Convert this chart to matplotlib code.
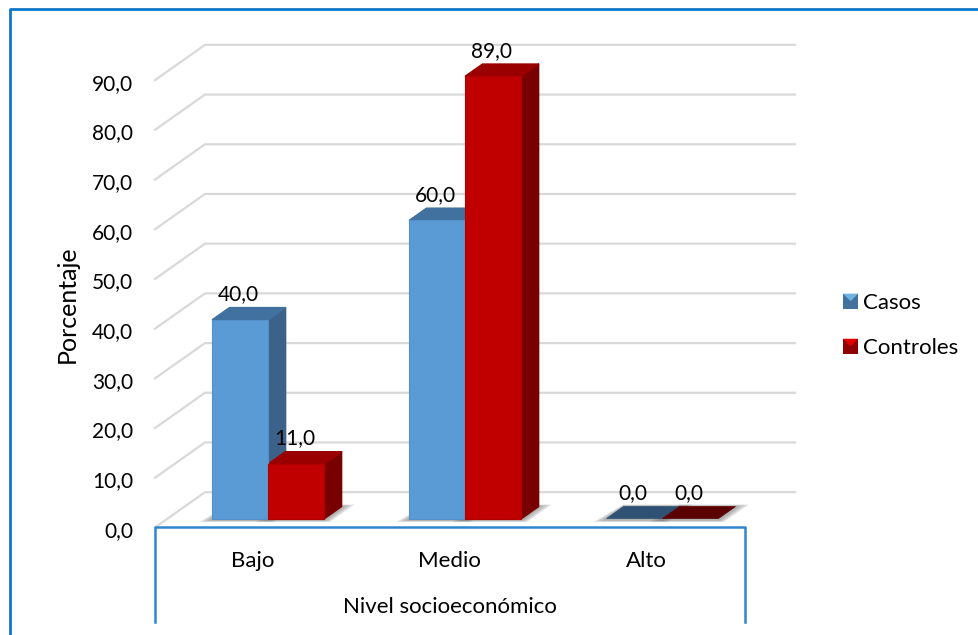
import matplotlib
matplotlib.use('Agg')
import matplotlib.pyplot as plt
from matplotlib.legend_handler import HandlerBase
from matplotlib.patches import Patch, Polygon, Rectangle

categories = ['Bajo', 'Medio', 'Alto']
casos = [40.0, 60.0, 0.0]
controles = [11.0, 89.0, 0.0]
y_ticks = [0, 10, 20, 30, 40, 50, 60, 70, 80, 90]

W, H = 979, 635
BLUE_LINE = '#0f77c8'
GRID = '#d9d9d9'
PX = 1 / 197
BAR_W = 56 * PX
DEPTH_X = 17 * PX
DEPTH_Y = 12 / 4.97


def fmt(v):
    return f'{v:.1f}'.replace('.', ',')


def px_x(px):
    return (px - 268.5) / 197


def px_y(px):
    return (518.5 - px) / 4.97


def draw_bar(ax, x, value, front, edge, top, side, flat):
    # 3d look: soft floor shadow, then side, top and front faces
    x1 = x + BAR_W
    for s in (13, 9, 5):
        ax.add_patch(Polygon([(x - s * PX, -0.3 - s * 0.03), (x1 + s * 0.4 * PX, -0.3 - s * 0.03),
                              (x1 + DEPTH_X + s * PX, DEPTH_Y + s * 0.03), (x + DEPTH_X, DEPTH_Y + s * 0.03)],
                             closed=True, fc='#6e6e6e', ec='none', alpha=0.22, zorder=2))
    if value == 0:
        ax.add_patch(Polygon([(x, 0), (x + DEPTH_X, DEPTH_Y), (x1 + DEPTH_X, DEPTH_Y), (x1, 0)],
                             closed=True, fc=flat, ec=flat, lw=0.5, zorder=3))
        return
    ax.add_patch(Polygon([(x1, 0), (x1 + DEPTH_X, DEPTH_Y), (x1 + DEPTH_X, value + DEPTH_Y), (x1, value)],
                         closed=True, fc=side, ec=side, lw=1.2, joinstyle='round', zorder=3))
    ax.add_patch(Polygon([(x, value), (x + DEPTH_X, value + DEPTH_Y), (x1 + DEPTH_X, value + DEPTH_Y), (x1, value)],
                         closed=True, fc=top, ec=top, lw=1.2, joinstyle='round', zorder=3))
    ax.add_patch(Rectangle((x, 0), BAR_W, value, fc=front, ec=edge, lw=0.8, zorder=4))


class BevelHandler(HandlerBase):
    def create_artists(self, legend, orig, xd, yd, w, h, fontsize, trans):
        base = Rectangle((-xd, -yd), h, h, fc=orig.get_edgecolor(), ec='none', transform=trans)
        tri = Polygon([(-xd, h - yd), (h - xd, h - yd), (h / 2 - xd, h / 2 - yd)],
                      closed=True, fc=orig.get_facecolor(), ec='none', transform=trans)
        return [base, tri]


plt.rcParams['font.family'] = ['Lato', 'DejaVu Sans']
fig = plt.figure(figsize=(W / 100, H / 100), dpi=100)
ax = fig.add_axes([0, 0, 1, 1])
ax.set_xlim(px_x(0), px_x(W))
ax.set_ylim(px_y(H), px_y(0))
ax.axis('off')

# gridlines: short diagonal on the floor side, then along the back wall
for v in y_ticks:
    ax.plot([px_x(155), px_x(205), px_x(795)],
            [v - 1.8, v + 5.3, v + 5.3], color=GRID, lw=1.6, zorder=1)
    ax.text(px_x(133), v - 2.5, fmt(v), ha='right', va='center', fontsize=15, color='black')

for i, cat in enumerate(categories):
    draw_bar(ax, i - BAR_W, casos[i], '#5b9bd5', '#5590c8', '#41719f', '#3c6289', '#2f5274')
    draw_bar(ax, i, controles[i], '#c00000', '#b00000', '#9b0000', '#780000', '#5a0000')
    ax.text(i - BAR_W / 2 - 2 * PX, casos[i] + DEPTH_Y + 0.7, fmt(casos[i]),
            ha='center', va='bottom', fontsize=15, zorder=5)
    ax.text(i + BAR_W / 2 - 2 * PX, controles[i] + DEPTH_Y + 0.7, fmt(controles[i]),
            ha='center', va='bottom', fontsize=15, zorder=5)
    ax.text(i - 0.08, px_y(561), cat, ha='center', va='center', fontsize=16)

ax.text(px_x(450), px_y(607), 'Nivel socioeconómico', ha='center', va='center', fontsize=16)
ax.text(px_x(67), px_y(304), 'Porcentaje', rotation=90, ha='center', va='center', fontsize=18)

# multi-level category box
ax.plot([px_x(155), px_x(155), px_x(745), px_x(745)],
        [px_y(622), px_y(527), px_y(527), px_y(622)], color='#2f86cf', lw=1.8, zorder=6)

# outer frame, open at the bottom and on the right
ax.plot([px_x(10), px_x(10), px_x(W + 2)],
        [px_y(H + 2), px_y(9), px_y(9)], color=BLUE_LINE, lw=2, zorder=6)

handles = [Patch(fc='#6fb4e0', ec='#41719f', label='Casos'),
           Patch(fc='#e00000', ec='#8f0000', label='Controles')]
ax.legend(handles=handles, loc='upper left', bbox_to_anchor=(843 / W, 1 - 293 / H), frameon=False,
          fontsize=16, handler_map={Patch: BevelHandler()}, handlelength=0.67, handleheight=0.67,
          handletextpad=0.22, labelspacing=1.13, borderpad=0, borderaxespad=0)

fig.savefig('out.png', dpi=100, facecolor='white')
